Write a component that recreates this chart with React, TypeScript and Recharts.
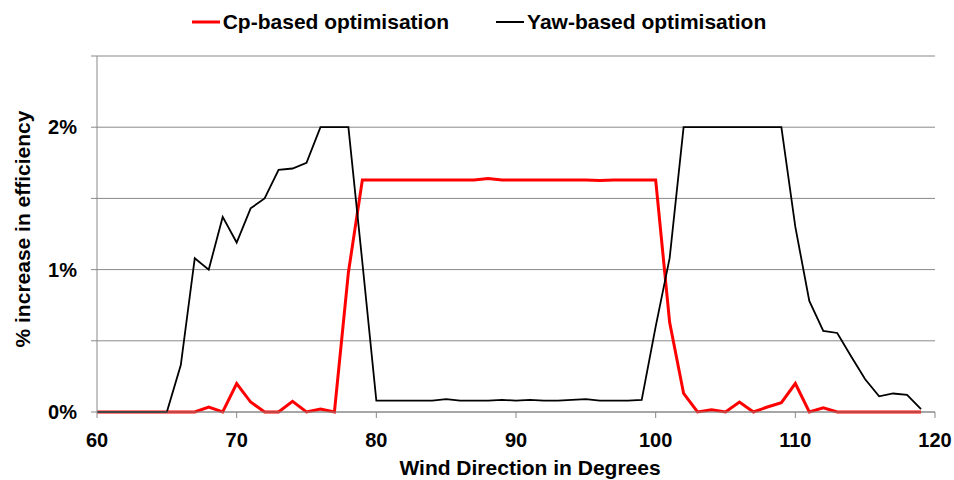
import { LineChart, Line, XAxis, YAxis, CartesianGrid, Legend } from 'recharts';

const directions = [
  60, 61, 62, 63, 64, 65, 66, 67, 68, 69,
  70, 71, 72, 73, 74, 75, 76, 77, 78, 79,
  80, 81, 82, 83, 84, 85, 86, 87, 88, 89,
  90, 91, 92, 93, 94, 95, 96, 97, 98, 99,
  100, 101, 102, 103, 104, 105, 106, 107, 108, 109,
  110, 111, 112, 113, 114, 115, 116, 117, 118, 119,
];

// % increase in efficiency
const cpBased = [
  0, 0, 0, 0, 0, 0, 0, 0, 0.035, 0,
  0.2, 0.07, 0, 0, 0.075, 0, 0.02, 0, 0.98, 1.63,
  1.63, 1.63, 1.63, 1.63, 1.63, 1.63, 1.63, 1.63, 1.64, 1.63,
  1.63, 1.63, 1.63, 1.63, 1.63, 1.63, 1.625, 1.63, 1.63, 1.63,
  1.63, 0.63, 0.13, 0, 0.015, 0, 0.07, 0, 0.035, 0.065,
  0.2, 0, 0.03, 0, 0, 0, 0, 0, 0, 0,
];

const yawBased = [
  0, 0, 0, 0, 0, 0, 0.33, 1.08, 1.0, 1.37,
  1.19, 1.43, 1.5, 1.7, 1.71, 1.75, 2, 2, 2, 1.05,
  0.08, 0.08, 0.08, 0.08, 0.08, 0.09, 0.08, 0.08, 0.08, 0.085,
  0.08, 0.085, 0.08, 0.08, 0.085, 0.09, 0.08, 0.08, 0.08, 0.085,
  0.6, 1.08, 2, 2, 2, 2, 2, 2, 2, 2,
  1.3, 0.78, 0.57, 0.555, 0.39, 0.23, 0.11, 0.13, 0.12, 0.02,
];

const xTicks = [60, 70, 80, 90, 100, 110, 120];
const yTicks = [0, 0.5, 1, 1.5, 2, 2.5];

const FONT = "'Liberation Sans', Arial, sans-serif";
const GRID = '#898989';

const data = directions.map((d, i) => ({ dir: d, cp: cpBased[i], yaw: yawBased[i] }));

function LegendContent() {
  const items = [
    { name: 'Cp-based optimisation', color: '#FF0000', width: 3 },
    { name: 'Yaw-based optimisation', color: '#000000', width: 2 },
  ];
  return (
    <div style={{ display: 'flex', justifyContent: 'center', height: 36, alignItems: 'center', fontFamily: FONT, fontWeight: 'bold', fontSize: 21 }}>
      {items.map((it, i) => (
        <div key={it.name} style={{ display: 'flex', alignItems: 'center', marginLeft: i ? 47 : 0 }}>
          <svg width={28} height={10} style={{ marginRight: 3 }}>
            <line x1={0} x2={28} y1={5} y2={5} stroke={it.color} strokeWidth={it.width} />
          </svg>
          <span>{it.name}</span>
        </div>
      ))}
    </div>
  );
}

export default function App() {
  return (
    <div style={{ position: 'absolute', left: 0, top: 0, background: '#fff' }}>
      <LineChart width={954} height={480} data={data} margin={{ top: 20, right: 19, left: 0, bottom: 38 }}>
        <CartesianGrid vertical={false} stroke={GRID} />
        <XAxis
          dataKey="dir"
          type="number"
          domain={[60, 120]}
          ticks={xTicks}
          height={30}
          stroke={GRID}
          tickSize={6}
          tickMargin={15}
          tick={{ fill: '#000', fontFamily: FONT, fontWeight: 'bold', fontSize: 20 }}
          label={({ viewBox }: any) => (
            <text
              x={viewBox.x + viewBox.width / 2 + 14}
              y={467}
              textAnchor="middle"
              dominantBaseline="central"
              fontFamily={FONT}
              fontWeight="bold"
              fontSize={21}
              fill="#000"
            >
              Wind Direction in Degrees
            </text>
          )}
        />
        <YAxis
          domain={[0, 2.5]}
          ticks={yTicks}
          width={97}
          stroke={GRID}
          tickSize={6}
          tickMargin={14}
          tick={{ fill: '#000', fontFamily: FONT, fontWeight: 'bold', fontSize: 20 }}
          tickFormatter={(v: number) => (Number.isInteger(v) ? `${v}%` : '')}
          label={({ viewBox }: any) => {
            const cy = viewBox.y + viewBox.height / 2 - 5;
            return (
              <text
                x={22}
                y={cy}
                transform={`rotate(-90, 22, ${cy})`}
                textAnchor="middle"
                dominantBaseline="central"
                fontFamily={FONT}
                fontWeight="bold"
                fontSize={21}
                fill="#000"
              >
                % increase in efficiency
              </text>
            );
          }}
        />
        <Legend verticalAlign="top" content={<LegendContent />} wrapperStyle={{ top: 4, left: 0, width: 958 }} />
        <Line type="linear" dataKey="cp" name="Cp-based optimisation" stroke="#FF0000" strokeWidth={3} dot={false} isAnimationActive={false} />
        <Line type="linear" dataKey="yaw" name="Yaw-based optimisation" stroke="#000000" strokeWidth={1.8} dot={false} isAnimationActive={false} />
      </LineChart>
    </div>
  );
}
